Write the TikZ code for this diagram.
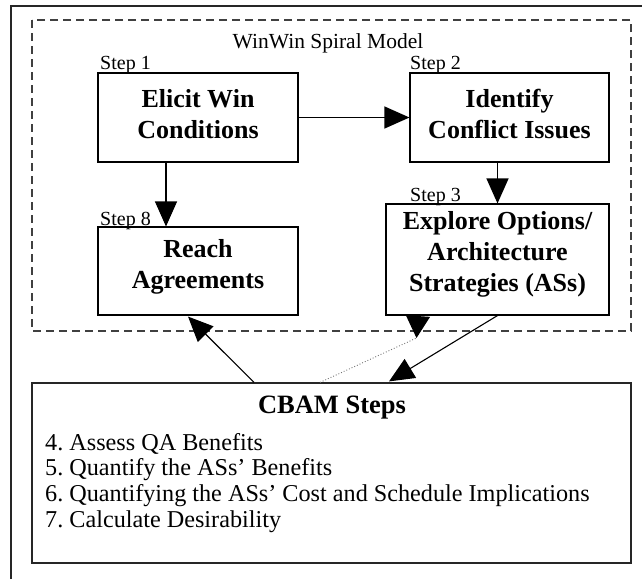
\documentclass[tikz,border=0pt]{standalone}
\usepackage{fontspec}
\setmainfont{Liberation Serif}
\usetikzlibrary{arrows.meta}
\begin{document}
\begin{tikzpicture}[x=1pt,y=-1pt,
  frame/.style={line width=1.3pt, black!85},
  region/.style={line width=1.2pt, black!75, dash pattern=on 8pt off 5pt},
  stepbox/.style={draw, line width=1.1pt, inner sep=0pt},
  boxtext/.style={align=center, inner sep=0pt, font=\fontsize{26}{31}\selectfont\bfseries},
  steplabel/.style={anchor=base west, inner sep=0pt, font=\fontsize{20}{24}\selectfont},
  listline/.style={anchor=base west, inner sep=0pt, font=\fontsize{24.2}{26}\selectfont},
  flow/.style={line width=1.1pt, -{Triangle[length=25pt,width=22pt]}},
  hint/.style={line width=0.9pt, black!55, dotted},
]
\useasboundingbox (0,0) rectangle (642,579);

% outer frame (continues past the right and bottom edges)
\draw[frame] (11,579) -- (11,6) -- (642,6);

% WinWin spiral region
\draw[region] (32,20) rectangle (631,331);
\node[inner sep=0pt, anchor=base, font=\fontsize{21.5}{25}\selectfont] (title) at (328,48) {WinWin Spiral Model};

% step boxes
\node[stepbox, minimum width=200pt, minimum height=89pt] (elicit) at (198,117.5) {};
\node[boxtext] (elicit-t) at ([yshift=3pt]elicit.center) {Elicit Win\\Conditions};
\node[steplabel] (s1) at (100,69) {Step 1};

\node[stepbox, minimum width=199pt, minimum height=89pt] (identify) at (509.5,117.5) {};
\node[boxtext] (identify-t) at ([yshift=3pt]identify.center) {Identify\\Conflict Issues};
\node[steplabel] (s2) at (410,69) {Step 2};

\node[stepbox, minimum width=223pt, minimum height=111pt] (explore) at (497.5,259.5) {};
\node[boxtext] (explore-t) at ([yshift=5pt]explore.center) {Explore Options/\\Architecture\\Strategies (ASs)};
\node[steplabel] (s3) at (410,201) {Step 3};

\node[stepbox, minimum width=200pt, minimum height=88pt] (reach) at (198,271) {};
\node[boxtext] (reach-t) at ([yshift=4pt]reach.center) {Reach\\Agreements};
\node[steplabel] (s8) at (100,225) {Step 8};

% CBAM steps
\node[draw, line width=1.2pt, black!85, inner sep=0pt, minimum width=599pt, minimum height=180pt] (cbam) at (331.5,473) {};
\node[inner sep=0pt, anchor=base, font=\fontsize{26.5}{30}\selectfont\bfseries] (cbam-h) at (332,413) {CBAM Steps};
\node[listline] (c4) at (45,450) {4.\ Assess QA Benefits};
\node[listline] (c5) at (45,475.7) {5.\ Quantify the ASs’ Benefits};
\node[listline] (c6) at (45,501.3) {6.\ Quantifying the ASs’ Cost and Schedule Implications};
\node[listline] (c7) at (45,527) {7.\ Calculate Desirability};

% connectors
\draw[flow] (elicit) -- (identify);
\draw[flow] (identify.south -| explore.north) -- (explore.north);
\draw[flow] ([xshift=-32pt]elicit.south) -- ([xshift=-32pt]reach.north);
\draw[flow] ([xshift=-77.5pt]cbam.north) -- ([xshift=-10pt,yshift=-1pt]reach.south);
\draw[flow] (explore.south) -- ([xshift=57.5pt,yshift=1pt]cbam.north);
\coordinate (hintend) at (416.5,338);
\draw[hint] ([xshift=-11.5pt]cbam.north) -- (hintend);
\draw[line width=1.1pt, -{Triangle[length=22pt,width=24pt]}] ([xshift=-79.5pt]explore.south) -- (hintend);
\end{tikzpicture}
\end{document}
